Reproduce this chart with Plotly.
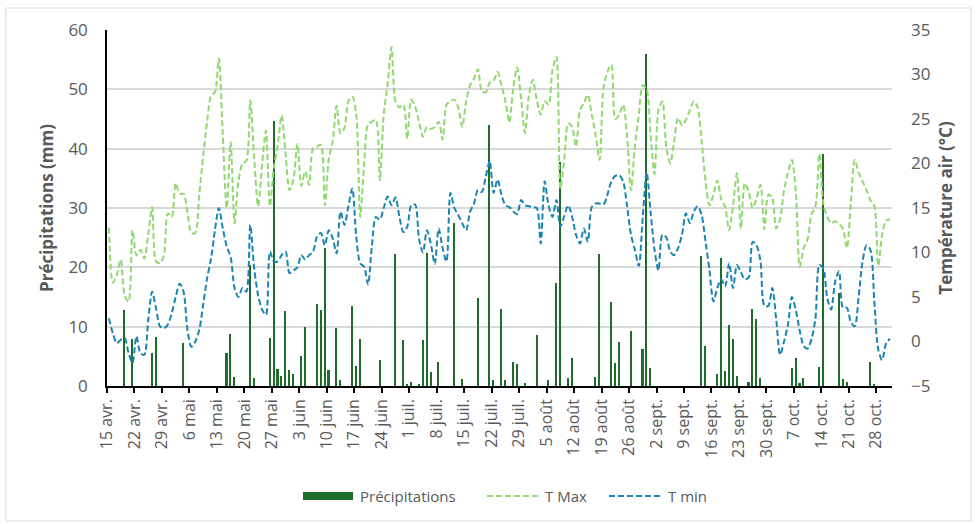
import pandas as pd
import plotly.graph_objects as go

# Daily series, 15 April to 31 October
dates = pd.date_range("2024-04-15", "2024-10-31", freq="D")

precip_mm = [
    0, 0, 0, 0, 12.8, 0, 8.0, 0, 0, 0,
    0, 5.5, 8.3, 0, 0, 0, 0, 0, 0, 7.2,
    0, 0, 0, 0, 0, 0, 0, 0, 0, 0,
    5.5, 8.8, 1.6, 0, 0, 0, 20.4, 1.3, 0, 0,
    0, 8.1, 44.7, 2.9, 1.7, 12.6, 2.7, 2.0, 0, 5.1,
    10.0, 0, 0, 13.8, 12.8, 23.3, 2.7, 0, 9.8, 1.0,
    0, 0, 13.5, 3.4, 7.9, 0, 0, 0, 0, 4.4,
    0, 0, 0, 22.2, 0, 7.8, 0.3, 0.6, 0, 0.3,
    7.8, 22.4, 2.4, 0, 4.1, 0, 0, 0, 27.5, 0,
    1.1, 0, 0, 0, 14.8, 0, 0, 44.0, 1.0, 0,
    13.0, 1.0, 0, 4.1, 3.7, 0, 0.5, 0, 0, 8.6,
    0, 0, 1.0, 0, 17.4, 37.8, 0, 1.4, 4.8, 0,
    0, 0, 0, 0, 1.5, 22.2, 0, 0, 14.2, 3.8,
    7.5, 0, 0, 9.3, 0, 0, 6.3, 56.0, 3.0, 0,
    0, 0, 0, 0, 0, 0, 0, 0, 0, 0,
    0, 21.9, 6.8, 0, 0, 2.0, 21.5, 2.6, 10.2, 7.9,
    1.7, 0, 0, 0.6, 13.0, 11.3, 1.4, 0, 0, 0,
    0, 0, 0, 0, 3.0, 4.8, 0.5, 1.4, 0, 0,
    0, 3.2, 39.1, 0, 0, 0, 15.6, 1.2, 0.6, 0,
    0, 0, 0, 0, 4.0, 0.3, 0, 0, 0, 0,
]

t_max = [
    12.8, 6.6, 7.5, 9.2, 5.2, 4.5, 12.5, 9.7, 10.3, 9.3,
    12.0, 15.1, 9.0, 8.8, 9.7, 14.4, 14.0, 17.8, 16.6, 16.6,
    14.5, 12.2, 12.2, 16.5, 20.8, 24.7, 27.6, 28.0, 31.8, 23.2,
    15.0, 22.4, 13.3, 18.0, 20.0, 20.3, 27.1, 20.6, 15.2, 19.8,
    23.7, 15.2, 19.5, 22.1, 25.4, 21.0, 17.0, 18.2, 22.2, 17.5,
    19.1, 17.6, 21.7, 21.9, 22.1, 15.3, 20.5, 22.5, 26.5, 23.4,
    24.0, 27.0, 27.5, 25.5, 14.0, 19.8, 24.4, 24.7, 24.9, 18.1,
    25.5, 29.0, 33.1, 27.0, 26.3, 26.6, 22.8, 27.2, 26.4, 24.7,
    23.0, 24.1, 23.9, 24.1, 24.7, 22.7, 26.6, 27.0, 27.2, 26.3,
    24.1, 27.0, 28.8, 29.5, 30.6, 28.1, 28.0, 29.1, 29.3, 30.3,
    28.8, 27.0, 24.6, 28.5, 30.8, 27.3, 23.4, 27.7, 29.4, 27.1,
    25.5, 27.0, 26.6, 30.5, 32.0, 17.2, 20.4, 24.5, 24.1, 21.9,
    26.0, 26.8, 27.7, 25.5, 23.2, 20.4, 28.5, 30.3, 31.1, 25.0,
    25.5, 26.6, 23.2, 17.0, 22.0, 25.5, 28.8, 28.3, 23.2, 18.8,
    26.0, 27.0, 21.8, 20.0, 22.5, 25.1, 24.3, 24.9, 26.0, 27.0,
    26.3, 22.5, 18.0, 15.3, 16.5, 18.1, 16.0, 15.1, 12.5, 15.3,
    18.9, 12.7, 17.8, 16.8, 15.0, 16.1, 17.6, 12.6, 16.5, 16.1,
    12.7, 13.8, 17.0, 19.0, 20.4, 16.8, 8.4, 10.5, 11.5, 14.3,
    15.2, 21.1, 15.5, 14.0, 13.3, 13.5, 13.2, 12.7, 10.5, 15.5,
    20.4, 19.0, 18.0, 17.0, 15.9, 15.2, 8.5, 12.0, 13.6, 13.7,
]

t_min = [
    2.6, 0.9, -0.2, 0.2, 0.4, -1.3, -2.4, 0.6, -1.3, -1.5,
    2.4, 5.6, 3.7, 1.7, 1.5, 1.9, 3.2, 5.0, 6.5, 5.6,
    1.3, -0.6, 0.0, 1.3, 4.1, 7.1, 9.3, 12.5, 15.0, 12.7,
    10.7, 9.5, 6.0, 5.0, 6.0, 5.6, 13.1, 8.2, 5.2, 3.6,
    3.0, 10.1, 9.0, 9.0, 9.7, 10.1, 7.7, 8.0, 8.3, 9.7,
    9.2, 9.7, 10.1, 11.8, 12.2, 10.8, 12.5, 11.6, 9.9, 14.6,
    13.1, 15.2, 17.2, 11.8, 8.8, 8.4, 6.4, 10.8, 14.0, 13.7,
    15.0, 16.3, 15.3, 16.2, 14.0, 12.3, 12.9, 15.3, 15.4, 11.5,
    10.0, 12.5, 11.0, 8.7, 12.7, 10.5, 9.0, 16.7, 15.0, 14.2,
    13.3, 12.5, 14.6, 15.5, 17.0, 16.8, 18.5, 20.3, 16.7, 18.2,
    16.5, 15.3, 15.1, 14.6, 14.3, 15.9, 15.3, 15.2, 15.1, 15.0,
    11.0, 18.0, 15.3, 14.0, 15.9, 12.9, 14.1, 15.3, 14.0, 12.0,
    11.0, 12.7, 11.2, 15.1, 15.5, 15.5, 15.4, 16.5, 18.0, 18.6,
    18.7, 18.0, 15.2, 12.0, 10.3, 8.5, 14.0, 19.0, 14.5, 10.3,
    8.0, 12.0, 11.7, 10.1, 9.7, 10.5, 12.0, 14.4, 13.3, 14.6,
    15.2, 14.2, 11.2, 8.0, 4.5, 6.0, 7.0, 6.2, 8.8, 6.0,
    8.6, 7.8, 7.0, 7.2, 11.2, 10.8, 9.0, 4.0, 4.0, 6.0,
    2.5, -1.5, 0.0, 1.9, 5.0, 3.5, 1.2, -0.5, -0.8, 0.3,
    2.6, 8.6, 8.2, 4.9, 3.6, 6.7, 7.9, 3.8, 3.8, 2.2,
    1.7, 5.0, 9.0, 10.8, 10.3, 4.5, -0.9, -2.1, -0.2, 0.3,
]

tick_labels = [
    "15 avr.", "22 avr.", "29 avr.", "6 mai", "13 mai", "20 mai", "27 mai",
    "3 juin", "10 juin", "17 juin", "24 juin", "1 juil.", "8 juil.", "15 juil.",
    "22 juil.", "29 juil.", "5 août", "12 août", "19 août", "26 août",
    "2 sept.", "9 sept.", "16 sept.", "23 sept.", "30 sept.", "7 oct.",
    "14 oct.", "21 oct.", "28 oct.",
]

series_names = ["Précipitations", "T Max", "T min"]

PRECIP_COLOR = "#1e6b2c"
TMAX_COLOR = "#92d870"
TMIN_COLOR = "#1a84b0"
TEXT_COLOR = "#595959"
FONT = "Open Sans"
DASH = "6px,3px"

day = list(range(len(dates)))
# ticks sit on day boundaries, one per week
tick_pos = [d - 0.5 for d in day[::7]]

fig = go.Figure()
fig.add_trace(go.Bar(
    x=day, y=precip_mm, name=series_names[0], yaxis="y",
    marker=dict(color=PRECIP_COLOR, line=dict(width=0)),
    width=0.4, showlegend=False,
))
fig.add_trace(go.Scatter(
    x=day, y=t_max, name=series_names[1], yaxis="y2", mode="lines",
    line=dict(color=TMAX_COLOR, width=2, dash=DASH, shape="spline", smoothing=0.8),
    showlegend=False,
))
fig.add_trace(go.Scatter(
    x=day, y=t_min, name=series_names[2], yaxis="y2", mode="lines",
    line=dict(color=TMIN_COLOR, width=2, dash=DASH, shape="spline", smoothing=0.8),
    showlegend=False,
))

L, R, T, B = 107, 86, 30, 138
W, H = 978, 524
pw, ph = W - L - R, H - T - B


def px_x(px):
    return (px - L) / pw


def px_y(py):
    return (H - B - py) / ph


shapes = [
    # chart frame
    dict(type="rect", xref="paper", yref="paper",
         x0=px_x(6), x1=px_x(971), y0=px_y(521), y1=px_y(8),
         line=dict(color="#d9d9d9", width=1), fillcolor="rgba(0,0,0,0)", layer="below"),
    # legend swatches
    dict(type="rect", xref="paper", yref="paper",
         x0=px_x(303), x1=px_x(353), y0=px_y(500), y1=px_y(492),
         line=dict(width=0), fillcolor=PRECIP_COLOR),
    dict(type="line", xref="paper", yref="paper",
         x0=px_x(487), x1=px_x(540), y0=px_y(496), y1=px_y(496),
         line=dict(color=TMAX_COLOR, width=2, dash=DASH)),
    dict(type="line", xref="paper", yref="paper",
         x0=px_x(609), x1=px_x(662), y0=px_y(496), y1=px_y(496),
         line=dict(color=TMIN_COLOR, width=2, dash=DASH)),
]

annotations = [
    dict(xref="paper", yref="paper", x=px_x(x0), y=px_y(496), text=name,
         showarrow=False, xanchor="left", yanchor="middle",
         font=dict(family=FONT, size=15, color=TEXT_COLOR))
    for x0, name in zip([358, 543, 666], series_names)
]

fig.update_layout(
    width=W, height=H,
    margin=dict(l=L, r=R, t=T, b=B, pad=0),
    paper_bgcolor="white", plot_bgcolor="white",
    font=dict(family=FONT, color=TEXT_COLOR),
    bargap=0,
    showlegend=False,
    shapes=shapes,
    annotations=annotations,
    xaxis=dict(
        range=[-0.5, len(day) - 0.5],
        tickmode="array", tickvals=tick_pos, ticktext=tick_labels,
        tickangle=-90, ticks="outside", ticklen=5, tickwidth=1.5, tickcolor="black",
        showline=True, linecolor="black", linewidth=1.5,
        showgrid=False, zeroline=False,
        tickfont=dict(family=FONT, size=16, color=TEXT_COLOR),
    ),
    yaxis=dict(
        range=[0, 60], dtick=10, tick0=0,
        showgrid=True, gridcolor="#d9d9d9", gridwidth=1.5,
        showline=True, linecolor="black", linewidth=1.5,
        zeroline=False, ticks="", ticklabelstandoff=14,
        tickfont=dict(family=FONT, size=17, color=TEXT_COLOR),
        title=dict(text="<b>Précipitations (mm)</b>", standoff=10,
                   font=dict(family=FONT, size=17, color=TEXT_COLOR)),
    ),
    yaxis2=dict(
        range=[-5, 35], dtick=5, tick0=-5,
        overlaying="y", side="right",
        showgrid=False, zeroline=False, showline=False, ticks="",
        ticklabelstandoff=18,
        tickfont=dict(family=FONT, size=17, color=TEXT_COLOR),
        title=dict(text="<b>Température air (°C)</b>", standoff=10,
                   font=dict(family=FONT, size=17, color=TEXT_COLOR)),
    ),
)

fig.write_html("out.html")
